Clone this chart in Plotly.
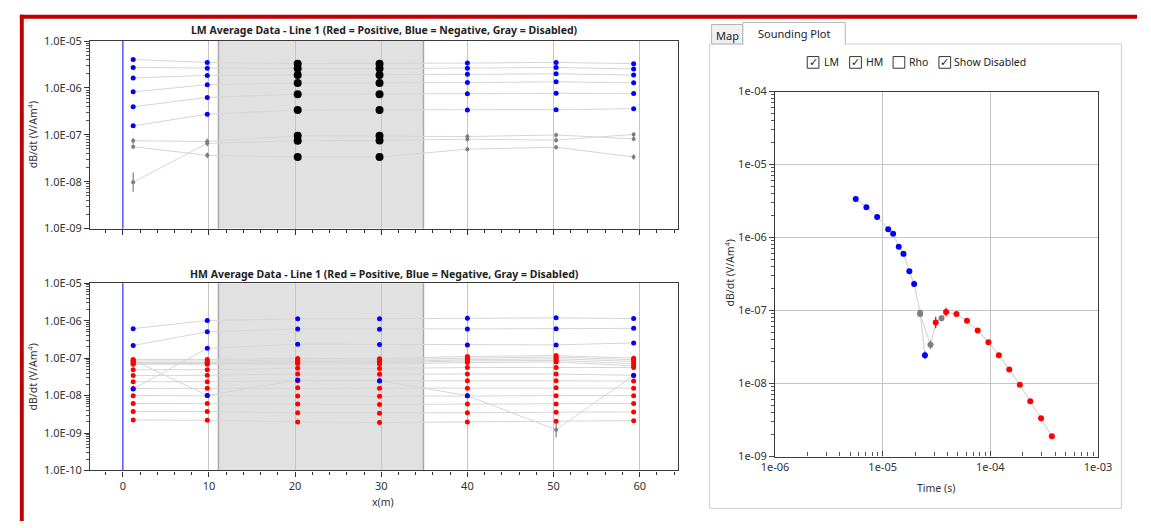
import plotly.graph_objects as go

W, H = 1151, 528
FONT = "Noto Sans"

# ---------------- data ----------------
stations = [1.2, 9.8, 20.3, 29.8, 40.0, 50.3, 59.3]
disabled_range = [11.1, 34.9]
disabled_station_idx = [2, 3]

# LM channels (sign: negative = blue, positive = red)
lm_channels = [
    [-4.04e-6, -3.50e-6, -3.29e-6, -3.29e-6, -3.39e-6, -3.50e-6, -3.29e-6],
    [-2.72e-6, -2.63e-6, -2.59e-6, -2.59e-6, -2.63e-6, -2.72e-6, -2.54e-6],
    [-1.63e-6, -1.85e-6, -1.88e-6, -1.88e-6, -1.95e-6, -2.00e-6, -1.88e-6],
    [-8.24e-7, -1.17e-6, -1.27e-6, -1.27e-6, -1.30e-6, -1.35e-6, -1.29e-6],
    [-3.95e-7, -6.28e-7, -7.35e-7, -7.35e-7, -7.49e-7, -7.71e-7, -7.60e-7],
    [-1.55e-7, -2.75e-7, -3.38e-7, -3.38e-7, -3.38e-7, -3.43e-7, -3.60e-7],
    [7.45e-8, 7.22e-8, 9.50e-8, 9.50e-8, 9.18e-8, 9.91e-8, 8.18e-8],
    [5.59e-8, 3.64e-8, 3.36e-8, 3.36e-8, 4.93e-8, 5.43e-8, 3.36e-8],
    [9.75e-9, 6.57e-8, 7.50e-8, 7.60e-8, 8.07e-8, 7.69e-8, 1.02e-7],
]
lm_disabled_channels = [6, 7, 8]
lm_err_factor = [
    [1.15, 1.15, 1.15, 1.15, 1.12, 1.12, 1.12],
    [1.12, 1.15, 1.15, 1.15, 1.12, 1.12, 1.15],
    [1.60, 1.15, 1.15, 1.15, 1.12, 1.12, 1.12],
]

# HM channels
hm_channels = [
    [-6.14e-7, -1.01e-6, -1.12e-6, -1.12e-6, -1.16e-6, -1.19e-6, -1.14e-6],
    [-2.18e-7, -5.04e-7, -6.03e-7, -5.90e-7, -6.03e-7, -6.14e-7, -6.25e-7],
    [-1.51e-8, -1.83e-7, -2.36e-7, -2.30e-7, -2.26e-7, -2.26e-7, -2.55e-7],
    [8.80e-8, -1.01e-8, -2.59e-8, -2.50e-8, -9.96e-9, 1.23e-9, -3.43e-8],
    [9.25e-8, 9.25e-8, 9.82e-8, 9.70e-8, 1.11e-7, 1.17e-7, 1.00e-7],
    [8.40e-8, 8.40e-8, 8.92e-8, 8.80e-8, 1.00e-7, 1.07e-7, 9.08e-8],
    [7.59e-8, 7.59e-8, 8.05e-8, 8.00e-8, 9.08e-8, 9.64e-8, 8.20e-8],
    [7.20e-8, 7.20e-8, 7.60e-8, 7.50e-8, 8.40e-8, 8.71e-8, 7.14e-8],
    [6.86e-8, 6.86e-8, 7.14e-8, 7.00e-8, 7.59e-8, 7.91e-8, 6.22e-8],
    [4.91e-8, 4.91e-8, 5.40e-8, 5.30e-8, 5.62e-8, 5.62e-8, 5.62e-8],
    [3.43e-8, 3.49e-8, 3.77e-8, 3.70e-8, 3.77e-8, 3.77e-8, 3.49e-8],
    [2.34e-8, 2.34e-8, 2.50e-8, 2.45e-8, 2.48e-8, 2.48e-8, 2.44e-8],
    [1.55e-8, 1.58e-8, 1.61e-8, 1.58e-8, 1.58e-8, 1.61e-8, 1.58e-8],
    [9.96e-9, 1.00e-8, 9.77e-9, 9.60e-9, 9.96e-9, 9.96e-9, 9.96e-9],
    [6.17e-9, 6.17e-9, 5.92e-9, 5.80e-9, 5.92e-9, 5.92e-9, 6.17e-9],
    [3.76e-9, 3.76e-9, 3.46e-9, 3.40e-9, 3.46e-9, 3.60e-9, 3.67e-9],
    [2.23e-9, 2.19e-9, 1.98e-9, 1.90e-9, 1.98e-9, 2.06e-9, 2.14e-9],
]
hm_disabled_points = [(3, 5)]
hm_disabled_err = [1.6]

# Sounding plot (LM then HM), signed values, disabled flags, error factors
snd_lm_time = [5.62e-6, 7.06e-6, 8.89e-6, 1.125e-5, 1.25e-5, 1.41e-5, 1.56e-5, 1.77e-5, 1.96e-5, 2.23e-5, 2.47e-5]
snd_lm_value = [-3.37e-6, -2.61e-6, -1.92e-6, -1.30e-6, -1.13e-6, -7.49e-7, -5.98e-7, -3.45e-7, -2.32e-7, 9.23e-8, -2.45e-8]
snd_lm_disabled = [0, 0, 0, 0, 0, 0, 0, 0, 0, 1, 0]
snd_lm_err = [1.0, 1.0, 1.0, 1.0, 1.0, 1.0, 1.0, 1.05, 1.1, 1.12, 1.12]
snd_hm_time = [2.23e-5, 2.78e-5, 3.11e-5, 3.52e-5, 3.88e-5, 4.85e-5, 6.07e-5, 7.63e-5, 9.60e-5, 1.20e-4, 1.50e-4, 1.88e-4, 2.35e-4, 2.96e-4, 3.73e-4]
snd_hm_value = [9.0e-8, 3.39e-8, 6.85e-8, 7.85e-8, 9.53e-8, 8.96e-8, 7.23e-8, 5.32e-8, 3.68e-8, 2.45e-8, 1.56e-8, 9.64e-9, 5.73e-9, 3.34e-9, 1.90e-9]
snd_hm_disabled = [1, 1, 0, 1, 0, 0, 0, 0, 0, 0, 0, 0, 0, 0, 0]
snd_hm_err = [1.1, 1.15, 1.2, 1.1, 1.15, 1.03, 1.0, 1.0, 1.0, 1.0, 1.0, 1.0, 1.0, 1.0, 1.0]

lm_ytick_vals = [1e-9, 1e-8, 1e-7, 1e-6, 1e-5]
lm_ytick_text = ["1.0E-09", "1.0E-08", "1.0E-07", "1.0E-06", "1.0E-05"]
hm_ytick_vals = [1e-10, 1e-9, 1e-8, 1e-7, 1e-6, 1e-5]
hm_ytick_text = ["1.0E-10", "1.0E-09", "1.0E-08", "1.0E-07", "1.0E-06", "1.0E-05"]
x_ticks = [0, 10, 20, 30, 40, 50, 60]
snd_xtick_vals = [1e-6, 1e-5, 1e-4, 1e-3]
snd_xtick_text = ["1e-06", "1e-05", "1e-04", "1e-03"]
snd_ytick_vals = [1e-9, 1e-8, 1e-7, 1e-6, 1e-5, 1e-4]
snd_ytick_text = ["1e-09", "1e-08", "1e-07", "1e-06", "1e-05", "1e-04"]

LM_TITLE = "LM Average Data - Line 1 (Red = Positive, Blue = Negative, Gray = Disabled)"
HM_TITLE = "HM Average Data - Line 1 (Red = Positive, Blue = Negative, Gray = Disabled)"
Y_TITLE = "dB/dt (V/Am<sup>4</sup>)"

BLUE, RED, GRAY, BLACK, LINE = "#0000ff", "#ff0000", "#7f7f7f", "#000000", "#d6d6d6"


def px(x):
    return x / W


def py(y):
    return 1 - y / H


def minor_log(lo, hi):
    out = []
    for e in range(lo, hi):
        for m in range(2, 10):
            out.append(m * 10.0 ** e)
    return out


fig = go.Figure()


def add_profile(channels, disabled_pts, err_pts, xa, ya, black_stations):
    for ch in channels:
        fig.add_trace(go.Scatter(x=stations, y=[abs(v) for v in ch], mode="lines",
                                 line=dict(color=LINE, width=1), xaxis=xa, yaxis=ya,
                                 hoverinfo="skip", showlegend=False))
    groups = {"b": ([], []), "r": ([], []), "k": ([], []), "g": ([], [], [], [])}
    for ci, ch in enumerate(channels):
        for si, v in enumerate(ch):
            if si in black_stations:
                groups["k"][0].append(stations[si]); groups["k"][1].append(abs(v))
            elif (ci, si) in disabled_pts:
                f = err_pts[(ci, si)]
                g = groups["g"]
                g[0].append(stations[si]); g[1].append(abs(v))
                g[2].append(abs(v) * (f - 1)); g[3].append(abs(v) * (1 - 1 / f))
            elif v < 0:
                groups["b"][0].append(stations[si]); groups["b"][1].append(-v)
            else:
                groups["r"][0].append(stations[si]); groups["r"][1].append(v)
    g = groups["g"]
    fig.add_trace(go.Scatter(x=g[0], y=g[1], mode="markers", marker=dict(color=GRAY, size=4),
                             error_y=dict(type="data", symmetric=False, array=g[2], arrayminus=g[3],
                                          color=GRAY, thickness=1.2, width=0),
                             xaxis=xa, yaxis=ya, showlegend=False))
    for key, col, size in (("r", RED, 5), ("b", BLUE, 5), ("k", BLACK, 8)):
        xs, ys = groups[key][0], groups[key][1]
        fig.add_trace(go.Scatter(x=xs, y=ys, mode="markers", marker=dict(color=col, size=size),
                                 xaxis=xa, yaxis=ya, showlegend=False))


lm_dis = {}
for k, ci in enumerate(lm_disabled_channels):
    for si in range(len(stations)):
        lm_dis[(ci, si)] = lm_err_factor[k][si]
add_profile(lm_channels, set(lm_dis.keys()), lm_dis, "x", "y", disabled_station_idx)

hm_dis = {p: f for p, f in zip(hm_disabled_points, hm_disabled_err)}
add_profile(hm_channels, set(hm_dis.keys()), hm_dis, "x2", "y2", [])


def add_sounding(t, v, dis, err):
    fig.add_trace(go.Scatter(x=t, y=[abs(a) for a in v], mode="lines", line=dict(color=LINE, width=1.2),
                             xaxis="x3", yaxis="y3", showlegend=False, hoverinfo="skip"))
    for kind, col in (("g", GRAY), ("b", BLUE), ("r", RED)):
        xs, ys, up, dn = [], [], [], []
        for ti, vi, di, fi in zip(t, v, dis, err):
            k = "g" if di else ("b" if vi < 0 else "r")
            if k != kind:
                continue
            a = abs(vi)
            xs.append(ti); ys.append(a); up.append(a * (fi - 1)); dn.append(a * (1 - 1 / fi))
        fig.add_trace(go.Scatter(x=xs, y=ys, mode="markers", marker=dict(color=col, size=6),
                                 error_y=dict(type="data", symmetric=False, array=up, arrayminus=dn,
                                              color=col, thickness=1.2, width=0),
                                 xaxis="x3", yaxis="y3", showlegend=False))


add_sounding(snd_lm_time, snd_lm_value, snd_lm_disabled, snd_lm_err)
add_sounding(snd_hm_time, snd_hm_value, snd_hm_disabled, snd_hm_err)

tickfont = dict(family=FONT, size=11, color="#333333")
left_x = dict(range=[-3.8, 64.5], tickvals=x_ticks, showgrid=True, gridcolor="#c4c4c4", gridwidth=1,
              zeroline=False, ticks="outside", ticklen=5, tickcolor="#333333",
              minor=dict(dtick=2, tick0=0, ticks="outside", ticklen=3, tickcolor="#333333", showgrid=False),
              showline=True, mirror=True, linecolor="#3a3a3a", linewidth=1.2, tickfont=tickfont,
              domain=[px(78), px(681)])

fig.update_layout(
    width=W, height=H, margin=dict(l=0, r=0, t=0, b=0),
    paper_bgcolor="white", plot_bgcolor="white", showlegend=False,
    font=dict(family=FONT, size=11, color="#333333"),
    xaxis=dict(left_x, anchor="y", showticklabels=False),
    yaxis=dict(type="log", range=[-9, -5], tickvals=lm_ytick_vals, ticktext=lm_ytick_text,
               ticks="outside", ticklen=5, tickcolor="#333333", showgrid=False, zeroline=False,
               minor=dict(tickvals=minor_log(-9, -5), ticks="outside", ticklen=3, tickcolor="#555555", showgrid=False),
               showline=True, mirror=True, linecolor="#3a3a3a", linewidth=1.2, tickfont=tickfont,
               anchor="x", domain=[py(227), py(34)]),
    xaxis2=dict(left_x, anchor="y2"),
    yaxis2=dict(type="log", range=[-10, -5], tickvals=hm_ytick_vals, ticktext=hm_ytick_text,
                ticks="outside", ticklen=5, tickcolor="#333333", showgrid=False, zeroline=False,
                minor=dict(tickvals=minor_log(-10, -5), ticks="outside", ticklen=3, tickcolor="#555555", showgrid=False),
                showline=True, mirror=True, linecolor="#3a3a3a", linewidth=1.2, tickfont=tickfont,
                anchor="x2", domain=[py(476), py(283.3)]),
    xaxis3=dict(type="log", range=[-6, -3], tickvals=snd_xtick_vals, ticktext=snd_xtick_text,
                showgrid=True, gridcolor="#c4c4c4", zeroline=False, ticks="inside", ticklen=5,
                tickcolor="#444444",
                minor=dict(tickvals=minor_log(-6, -3), ticks="inside", ticklen=4, tickcolor="#555555", showgrid=False),
                showline=True, mirror=True, linecolor="#3a3a3a", linewidth=1.2, tickfont=tickfont,
                anchor="y3", domain=[px(780), px(1111)]),
    yaxis3=dict(type="log", range=[-9, -4], tickvals=snd_ytick_vals, ticktext=snd_ytick_text,
                showgrid=True, gridcolor="#c4c4c4", zeroline=False, ticks="outside", ticklen=5,
                tickcolor="#444444",
                minor=dict(tickvals=minor_log(-9, -4), ticks="outside", ticklen=3, tickcolor="#555555", showgrid=False),
                showline=True, mirror=True, linecolor="#3a3a3a", linewidth=1.2, tickfont=tickfont,
                anchor="x3", domain=[py(461.7), py(86)]),
)

shapes = []
for xa, ya in (("x", "y"), ("x2", "y2")):
    shapes.append(dict(type="rect", xref=xa, yref=ya + " domain", x0=disabled_range[0], x1=disabled_range[1],
                       y0=0, y1=1, fillcolor="#e1e1e1", line=dict(width=0), layer="below"))
    for xv in disabled_range:
        shapes.append(dict(type="line", xref=xa, yref=ya + " domain", x0=xv, x1=xv, y0=0, y1=1,
                           line=dict(color="#a9a9a9", width=1.5), layer="below"))
    shapes.append(dict(type="line", xref=xa, yref=ya + " domain", x0=0, x1=0, y0=0, y1=1,
                       line=dict(color="#5a5aff", width=1.5), layer="above"))

# red frame
shapes.append(dict(type="rect", xref="paper", yref="paper", x0=px(6), x1=1, y0=py(11), y1=py(7),
                   fillcolor="#c00000", line=dict(width=0)))
shapes.append(dict(type="rect", xref="paper", yref="paper", x0=px(6), x1=px(10), y0=0, y1=py(7),
                   fillcolor="#c00000", line=dict(width=0)))

# right panel frame and tabs
shapes.append(dict(type="rect", xref="paper", yref="paper", x0=px(713), x1=px(1135), y0=py(515), y1=py(37),
                   fillcolor="white", line=dict(color="#cfcfcf", width=1), layer="below"))
shapes.append(dict(type="rect", xref="paper", yref="paper", x0=px(715), x1=px(747), y0=py(37), y1=py(17),
                   fillcolor="#f0f0f0", line=dict(color="#b4b4b4", width=1), layer="below"))
shapes.append(dict(type="rect", xref="paper", yref="paper", x0=px(747), x1=px(852), y0=py(37.5), y1=py(15),
                   fillcolor="white", line=dict(color="#b4b4b4", width=1), layer="below"))
shapes.append(dict(type="line", xref="paper", yref="paper", x0=px(747.6), x1=px(851.4), y0=py(37.2), y1=py(37.2),
                   line=dict(color="white", width=2), layer="below"))

checkboxes = [("LM", 813, True, 837.5), ("HM", 856.5, True, 881.5), ("Rho", 901, False, 927.5),
              ("Show Disabled", 948, True, 1000.5)]
annotations = []
for label, bx, checked, tx in checkboxes:
    shapes.append(dict(type="rect", xref="paper", yref="paper", x0=px(bx), x1=px(bx + 12), y0=py(62), y1=py(50),
                       fillcolor="white", line=dict(color="#333333", width=1)))
    if checked:
        annotations.append(dict(x=px(bx + 6), y=py(56), text="✓",
                                font=dict(family="DejaVu Sans", size=11, color="#222222")))
    annotations.append(dict(x=px(tx), y=py(56), text=label, font=dict(family=FONT, size=10.5, color="#222222")))

annotations += [
    dict(x=px(731.5), y=py(28), text="Map", font=dict(family=FONT, size=11, color="#222222")),
    dict(x=px(799), y=py(26.5), text="Sounding Plot", font=dict(family=FONT, size=11, color="#222222")),
    dict(x=px(379.5), y=py(23), text="<b>" + LM_TITLE + "</b>", font=dict(family=FONT, size=10.5, color="#222222")),
    dict(x=px(379.5), y=py(273.5), text="<b>" + HM_TITLE + "</b>", font=dict(family=FONT, size=10.5, color="#222222")),
    dict(x=px(19), y=py(130.5), text=Y_TITLE, textangle=-90, font=dict(family=FONT, size=10.5, color="#333333")),
    dict(x=px(19), y=py(379.7), text=Y_TITLE, textangle=-90, font=dict(family=FONT, size=10.5, color="#333333")),
    dict(x=px(378), y=py(508), text="x(m)", font=dict(family=FONT, size=10.5, color="#333333")),
    dict(x=px(733), y=py(273), text=Y_TITLE, textangle=-90, font=dict(family=FONT, size=10.5, color="#333333")),
    dict(x=px(945.5), y=py(494), text="Time (s)", font=dict(family=FONT, size=10.5, color="#333333")),
]
for a in annotations:
    a.setdefault("xref", "paper")
    a.setdefault("yref", "paper")
    a.setdefault("showarrow", False)
    a.setdefault("xanchor", "center")
    a.setdefault("yanchor", "middle")

fig.update_layout(shapes=shapes, annotations=annotations)
fig.write_html("out.html")
